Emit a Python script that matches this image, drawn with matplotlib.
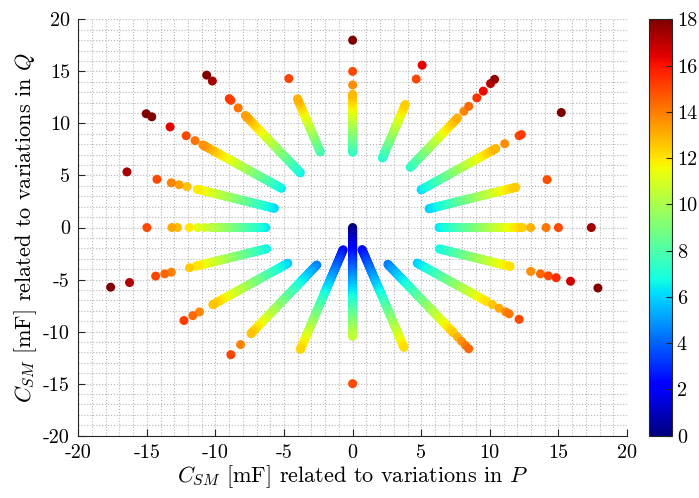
import numpy as np
import matplotlib.pyplot as plt
from matplotlib.ticker import MultipleLocator

plt.rcParams['font.family'] = 'serif'
plt.rcParams['font.serif'] = ['cmr10']
plt.rcParams['mathtext.fontset'] = 'cm'
plt.rcParams['axes.unicode_minus'] = False

# ray directions (deg) and the dense run of points along each ray (radius, mF)
angles = [0, 18, 36, 54, 72, 90, 108, 126, 144, 162,
          180, 198, 216, 234, 252, 270, 288, 306, 324, 342]
seg_start = [6.3, 5.86, 6.17, 7.15, 7.03, 7.24, 7.64, 6.5, 6.42, 6.0,
             6.33, 6.6, 5.84, 4.45, 2.25, 0.0, 2.23, 4.37, 5.82, 6.65]
seg_end = [12.4, 12.5, 12.9, 13.0, 12.43, 12.8, 13.0, 13.3, 13.5, 11.9,
           10.33, 12.0, 12.6, 12.6, 12.3, 10.45, 12.1, 12.5, 12.07, 12.06]
# separate points further out on each ray
outer = [
    [12.98, 14.1, 15.0, 17.4],
    [14.9],
    [13.7, 15.0, 15.2, 18.8],
    [13.8, 14.4, 15.4, 16.2, 17.1, 17.6],
    [15.0, 16.4],
    [13.7, 15.0, 18.0],
    [15.05],
    [14.2, 15.1, 15.3, 17.4, 18.1],
    [14.2, 15.0, 16.45, 18.1, 18.6],
    [12.7, 13.3, 13.9, 15.0, 17.3],
    [10.8, 11.3, 11.9, 12.77, 13.17, 15.0],
    [12.5, 13.9, 14.4, 15.1, 17.1, 18.55],
    [13.8, 14.4, 15.2],
    [13.9, 15.1],
    [],
    [15.0],
    [],
    [13.0, 13.5, 14.0, 14.4],
    [12.6, 13.2, 13.8, 14.1, 15.0],
    [13.65, 14.4, 15.0, 15.6, 16.7, 18.8],
]

xs, ys, cs = [], [], []
for a, r0, r1, extra in zip(angles, seg_start, seg_end, outer):
    r = np.concatenate([np.arange(r0, r1, 0.1), [r1], extra])
    t = np.deg2rad(a)
    xs.append(r * np.cos(t))
    ys.append(r * np.sin(t))
    cs.append(r)
xs = np.concatenate(xs)
ys = np.concatenate(ys)
cs = np.concatenate(cs)

fig = plt.figure(figsize=(6.99, 4.98), dpi=100)
ax = fig.add_axes([0.112, 0.1251, 0.785, 0.836])
cax = fig.add_axes([0.9285, 0.1251, 0.0329, 0.836])

sc = ax.scatter(xs, ys, c=cs, cmap='jet', vmin=0, vmax=18, s=42,
                edgecolors='none', zorder=3)

ax.set_xlim(-20, 20)
ax.set_ylim(-20, 20)
ax.xaxis.set_major_locator(MultipleLocator(5))
ax.yaxis.set_major_locator(MultipleLocator(5))
ax.xaxis.set_minor_locator(MultipleLocator(1))
ax.yaxis.set_minor_locator(MultipleLocator(1))
ax.grid(which='both', linestyle=':', color='#b5b5b5', linewidth=0.8)
ax.set_axisbelow(True)
ax.tick_params(which='major', direction='in', length=5, labelsize=14.5,
               colors='#262626', labelcolor='black', pad=6)
ax.tick_params(which='minor', length=0)
for side in ['top', 'right']:
    ax.spines[side].set_visible(False)
for side in ['left', 'bottom']:
    ax.spines[side].set_color('#262626')

ax.set_xlabel(r'$C_{SM}$ [mF] related to variations in $P$', fontsize=16,
              labelpad=1)
ax.set_ylabel(r'$C_{SM}$ [mF] related to variations in $Q$', fontsize=16,
              labelpad=3)

cb = fig.colorbar(sc, cax=cax)
cb.set_ticks(np.arange(0, 19, 2))
cb.ax.tick_params(direction='in', length=4, labelsize=14.5, colors='#262626',
                  labelcolor='black')
cb.outline.set_edgecolor('#262626')

fig.savefig('out.png', dpi=100)
